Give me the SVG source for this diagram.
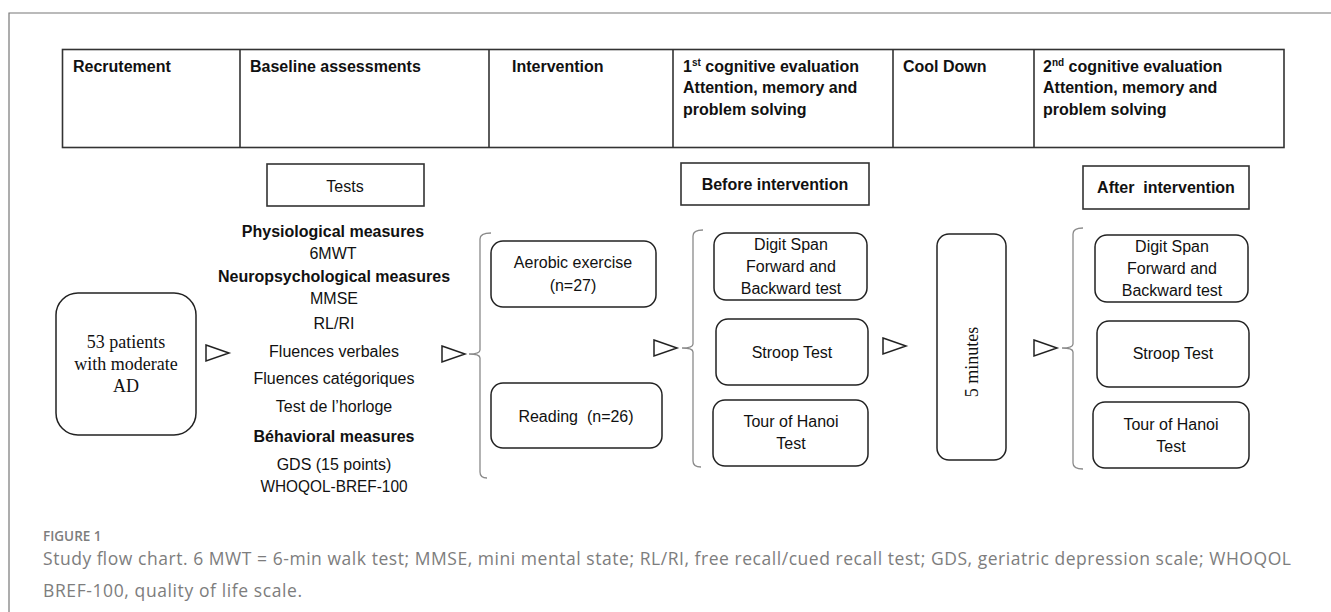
<svg xmlns="http://www.w3.org/2000/svg" width="1331" height="612" viewBox="0 0 1331 612">
<style>
  .hdr { fill: none; stroke: #333; stroke-width: 1.6; }
  .ht { font-family: "Liberation Sans", Arial, sans-serif; font-weight: bold; font-size: 16px; fill: #111; }
  .box { fill: #fff; stroke: #222; stroke-width: 1.5; }
  .sq { fill: #fff; stroke: #333; stroke-width: 1.6; }
  .t { font-family: "Liberation Sans", Arial, sans-serif; font-size: 16px; fill: #111; text-anchor: middle; }
  .tb { font-family: "Liberation Sans", Arial, sans-serif; font-size: 16px; font-weight: bold; fill: #111; text-anchor: middle; }
  .serif { font-family: "Liberation Serif", "Times New Roman", serif; font-size: 18px; fill: #111; text-anchor: middle; }
  .tri { fill: #fff; stroke: #222; stroke-width: 1.5; stroke-linejoin: miter; }
  .brace { fill: none; stroke: #8a8a8a; stroke-width: 1.3; }
  .frame { stroke: #777; stroke-width: 1.2; fill: none; }
  .cap { font-family: "Open Sans", Lato, "Liberation Sans", sans-serif; fill: #7d7d7d; }
</style>

<!-- outer frame -->
<path class="frame" d="M9,612 V13 H1331"/>

<!-- header table -->
<g id="header">
  <rect class="hdr" x="62.5" y="49.5" width="1221.5" height="98"/>
  <line class="hdr" x1="240" y1="49.5" x2="240" y2="147.5"/>
  <line class="hdr" x1="489" y1="49.5" x2="489" y2="147.5"/>
  <line class="hdr" x1="673" y1="49.5" x2="673" y2="147.5"/>
  <line class="hdr" x1="893" y1="49.5" x2="893" y2="147.5"/>
  <line class="hdr" x1="1034" y1="49.5" x2="1034" y2="147.5"/>
  <text class="ht" x="73" y="72">Recrutement</text>
  <text class="ht" x="250" y="72">Baseline assessments</text>
  <text class="ht" x="512" y="72">Intervention</text>
  <text class="ht" x="683" y="72">1<tspan font-size="10" dy="-6">st</tspan><tspan dy="6"> cognitive evaluation</tspan></text>
  <text class="ht" x="683" y="93">Attention, memory and</text>
  <text class="ht" x="683" y="115">problem solving</text>
  <text class="ht" x="903" y="72">Cool Down</text>
  <text class="ht" x="1043" y="72">2<tspan font-size="10" dy="-6">nd</tspan><tspan dy="6"> cognitive evaluation</tspan></text>
  <text class="ht" x="1043" y="93">Attention, memory and</text>
  <text class="ht" x="1043" y="115">problem solving</text>
</g>

<!-- connectors: arrows and braces -->
<g id="connectors">
  <polygon class="tri" points="206,345 229,353 206,361"/>
  <polygon class="tri" points="442,346 465,354 442,362"/>
  <polygon class="tri" points="654,340 677,348 654,356"/>
  <polygon class="tri" points="883,338 906,346 883,354"/>
  <polygon class="tri" points="1034,340 1057,348 1034,356"/>
  <path class="brace" d="M491,233 Q480,233 480,239 V350 Q480,354 469,354 Q480,354 480,358 V472 Q480,478 487,478"/>
  <path class="brace" d="M703,230 Q693,230 693,236 V344 Q693,348 682,348 Q693,348 693,352 V461 Q693,467 701,467"/>
  <path class="brace" d="M1083,228 Q1073,228 1073,234 V344 Q1073,348 1062,348 Q1073,348 1073,352 V463 Q1073,469 1083,469"/>
</g>

<!-- recruitment -->
<g id="patients">
  <rect class="box" x="56" y="293" width="140" height="142" rx="22"/>
  <text class="serif" x="126" y="348">53 patients</text>
  <text class="serif" x="126" y="370">with moderate</text>
  <text class="serif" x="126" y="392">AD</text>
</g>

<!-- baseline tests -->
<g id="tests">
  <rect class="sq" x="267" y="164" width="157" height="42"/>
  <text class="t" x="345" y="192">Tests</text>
</g>
<g id="baseline-measures">
  <text class="tb" x="333" y="237">Physiological measures</text>
  <text class="t" x="333" y="259">6MWT</text>
  <text class="tb" x="334" y="282">Neuropsychological measures</text>
  <text class="t" x="334" y="304">MMSE</text>
  <text class="t" x="334" y="329">RL/RI</text>
  <text class="t" x="334" y="357">Fluences verbales</text>
  <text class="t" x="334" y="384">Fluences catégoriques</text>
  <text class="t" x="334" y="412">Test de l’horloge</text>
  <text class="tb" x="334" y="442">Béhavioral measures</text>
  <text class="t" x="334" y="470">GDS (15 points)</text>
  <text class="t" x="334" y="492" textLength="147" lengthAdjust="spacingAndGlyphs">WHOQOL-BREF-100</text>
</g>

<!-- intervention -->
<g id="aerobic">
  <rect class="box" x="491" y="241" width="165" height="66" rx="12"/>
  <text class="t" x="573" y="268">Aerobic exercise</text>
  <text class="t" x="573" y="291">(n=27)</text>
</g>
<g id="reading">
  <rect class="box" x="491" y="383" width="171" height="65" rx="12"/>
  <text class="t" x="576" y="422" style="white-space:pre">Reading  (n=26)</text>
</g>

<!-- first evaluation -->
<g id="before">
  <rect class="sq" x="681" y="163" width="188" height="42"/>
  <text class="tb" x="775" y="190">Before intervention</text>
</g>
<g id="digit1">
  <rect class="box" x="714" y="233" width="153" height="67" rx="12"/>
  <text class="t" x="791" y="250">Digit Span</text>
  <text class="t" x="791" y="272">Forward and</text>
  <text class="t" x="791" y="294">Backward test</text>
</g>
<g id="stroop1">
  <rect class="box" x="716" y="319" width="152" height="66" rx="12"/>
  <text class="t" x="792" y="358">Stroop Test</text>
</g>
<g id="hanoi1">
  <rect class="box" x="713" y="400" width="155" height="66" rx="12"/>
  <text class="t" x="791" y="427">Tour of Hanoi</text>
  <text class="t" x="791" y="449">Test</text>
</g>

<!-- cool down -->
<g id="cooldown">
  <rect class="box" x="937" y="234" width="69" height="226" rx="12"/>
  <text class="serif" x="0" y="0" transform="translate(978,362) rotate(-90)">5 minutes</text>
</g>

<!-- second evaluation -->
<g id="after">
  <rect class="sq" x="1083" y="166" width="166" height="43"/>
  <text class="tb" x="1166" y="193" style="white-space:pre">After  intervention</text>
</g>
<g id="digit2">
  <rect class="box" x="1095" y="235" width="153" height="67" rx="12"/>
  <text class="t" x="1172" y="252">Digit Span</text>
  <text class="t" x="1172" y="274">Forward and</text>
  <text class="t" x="1172" y="296">Backward test</text>
</g>
<g id="stroop2">
  <rect class="box" x="1097" y="321" width="152" height="66" rx="12"/>
  <text class="t" x="1173" y="359">Stroop Test</text>
</g>
<g id="hanoi2">
  <rect class="box" x="1093" y="402" width="156" height="66" rx="12"/>
  <text class="t" x="1171" y="430">Tour of Hanoi</text>
  <text class="t" x="1171" y="452">Test</text>
</g>

<!-- caption -->
<g id="caption">
  <text class="cap" x="43" y="541" font-size="13.5" font-weight="600">FIGURE 1</text>
  <text class="cap" x="43" y="565" font-size="17.5" textLength="1248" lengthAdjust="spacing">Study flow chart. 6 MWT = 6-min walk test; MMSE, mini mental state; RL/RI, free recall/cued recall test; GDS, geriatric depression scale; WHOQOL</text>
  <text class="cap" x="43" y="597" font-size="17.5" textLength="259" lengthAdjust="spacing">BREF-100, quality of life scale.</text>
</g>
</svg>
